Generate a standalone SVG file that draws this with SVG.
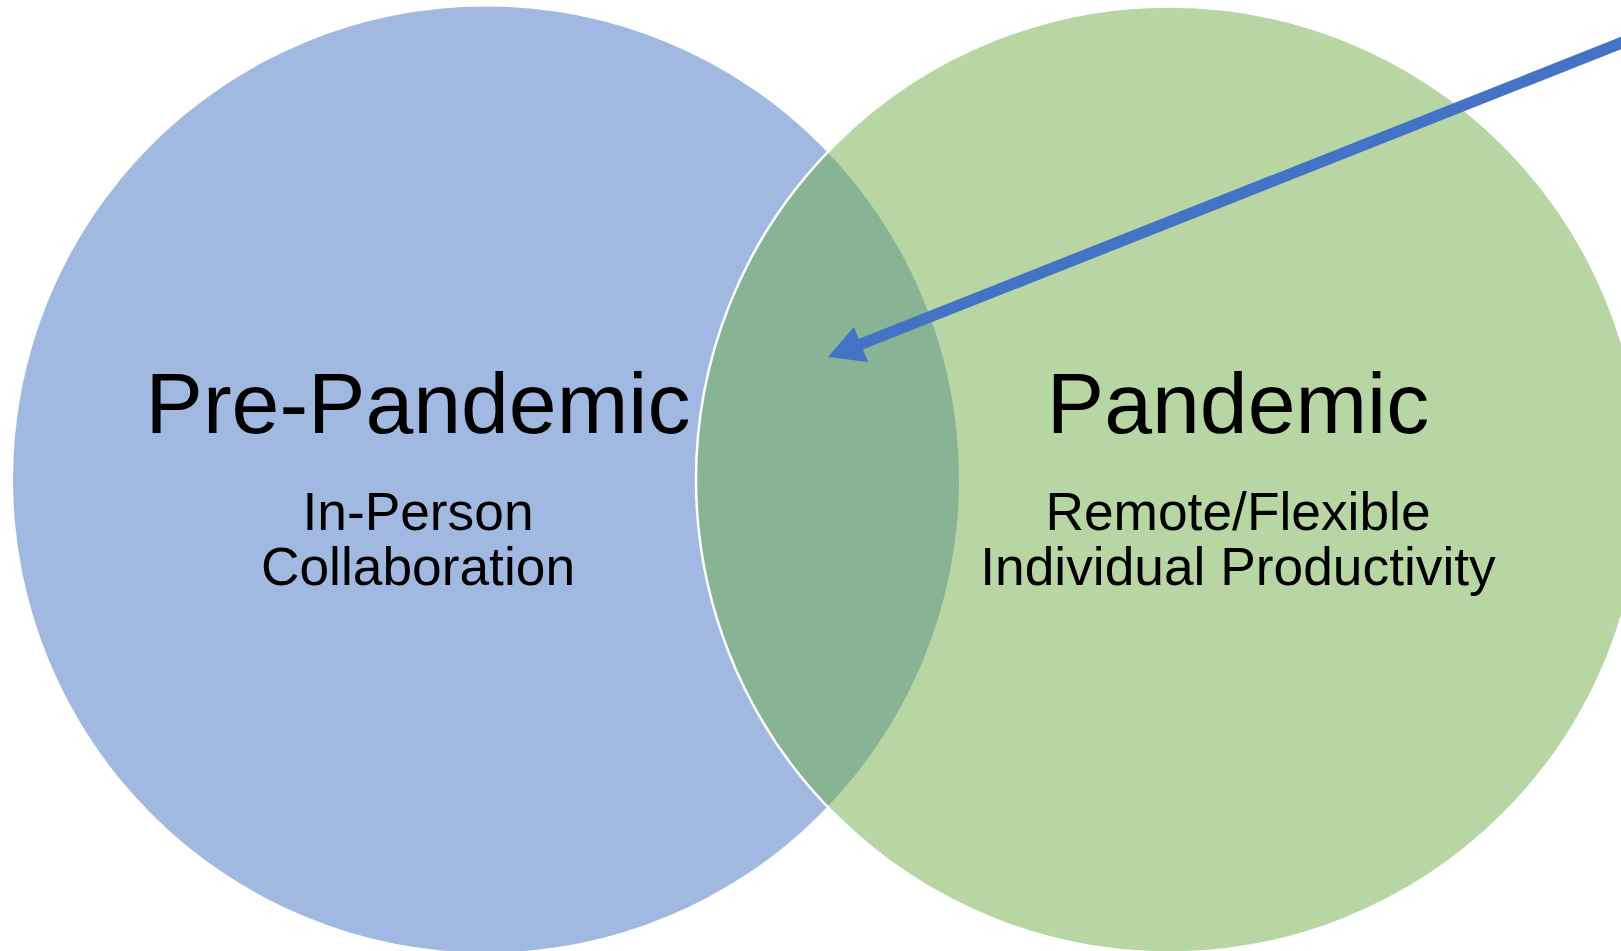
<svg xmlns="http://www.w3.org/2000/svg" width="1621" height="951" viewBox="0 0 1621 951">
<style>
.title{font-family:"Liberation Sans",Arial,sans-serif;font-size:86px;fill:#000;text-anchor:middle}
.sub{font-family:"Liberation Sans",Arial,sans-serif;font-size:53.3px;fill:#000;text-anchor:middle}
</style>
<rect width="1621" height="951" fill="#fff"/>
<g id="pre-pandemic">
<circle cx="486" cy="479.5" r="473" fill="#4472C4" fill-opacity="0.5"/>
</g>
<g id="pandemic">
<circle cx="1169" cy="479.5" r="473" fill="#70AD47" fill-opacity="0.5" stroke="#fff" stroke-width="2.5"/>
</g>
<g id="labels">
<text class="title" x="418" y="433">Pre-Pandemic</text>
<text class="sub" x="418" y="530">In-Person</text>
<text class="sub" x="418" y="585">Collaboration</text>
<text class="title" x="1238" y="433">Pandemic</text>
<text class="sub" x="1238" y="530">Remote/Flexible</text>
<text class="sub" x="1238" y="585">Individual Productivity</text>
</g>
<g id="connectors">
<line x1="1640" y1="35.5" x2="860" y2="344.5" stroke="#4472C4" stroke-width="11.5"/>
<polygon points="828,357 854,327 868,362" fill="#4472C4"/>
</g>
</svg>
